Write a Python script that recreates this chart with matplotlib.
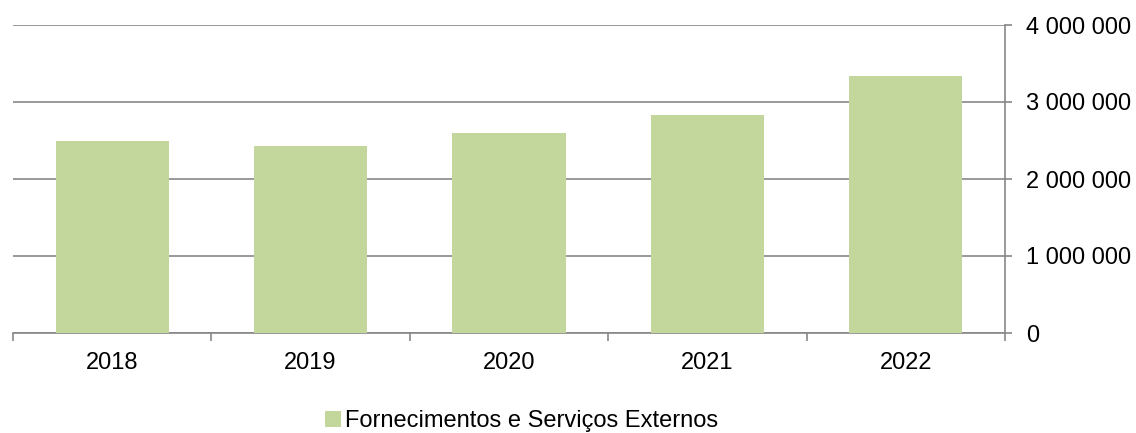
import matplotlib.pyplot as plt
import numpy as np

plt.rcParams['font.family'] = ['Liberation Sans', 'DejaVu Sans']

anos = ['2018', '2019', '2020', '2021', '2022']
valores = [2500000, 2425000, 2593000, 2825000, 3333000]
y_ticks = [0, 1000000, 2000000, 3000000, 4000000]
y_labels = ['0', '1 000 000', '2 000 000', '3 000 000', '4 000 000']
serie = 'Fornecimentos e Serviços Externos'

cinza = '#878787'
verde = '#C3D69B'

fig = plt.figure(figsize=(11.36, 4.33), dpi=100)
ax = fig.add_axes([13 / 1136, 100 / 433, 992 / 1136, 308 / 433])

x = np.arange(len(anos))
ax.bar(x, valores, width=0.57, color=verde, label=serie, zorder=3)

ax.set_xlim(-0.5, len(anos) - 0.5)
ax.set_ylim(0, 4000000)

ax.set_yticks(y_ticks)
ax.set_yticklabels(y_labels)
ax.yaxis.tick_right()
ax.grid(axis='y', color=cinza, linewidth=1.2, zorder=0)

ax.set_xticks(np.arange(-0.5, len(anos), 1.0))
ax.set_xticklabels([])
ax.set_xticks(x, minor=True)
ax.set_xticklabels(anos, minor=True)
ax.tick_params(axis='x', which='major', length=6, width=1.2, color=cinza)
ax.tick_params(axis='x', which='minor', length=0, pad=14, labelsize=17)
ax.tick_params(axis='y', length=5, width=1.2, color=cinza, pad=10, labelsize=17)

for s in ['top', 'left']:
    ax.spines[s].set_visible(False)
for s in ['right', 'bottom']:
    ax.spines[s].set_color(cinza)
    ax.spines[s].set_linewidth(1.2)

fig.legend(loc='center', bbox_to_anchor=(522 / 1136, 12 / 433), frameon=False,
           fontsize=17, handlelength=0.65, handleheight=0.65, handletextpad=0.2)

fig.savefig('out.png', dpi=100)
